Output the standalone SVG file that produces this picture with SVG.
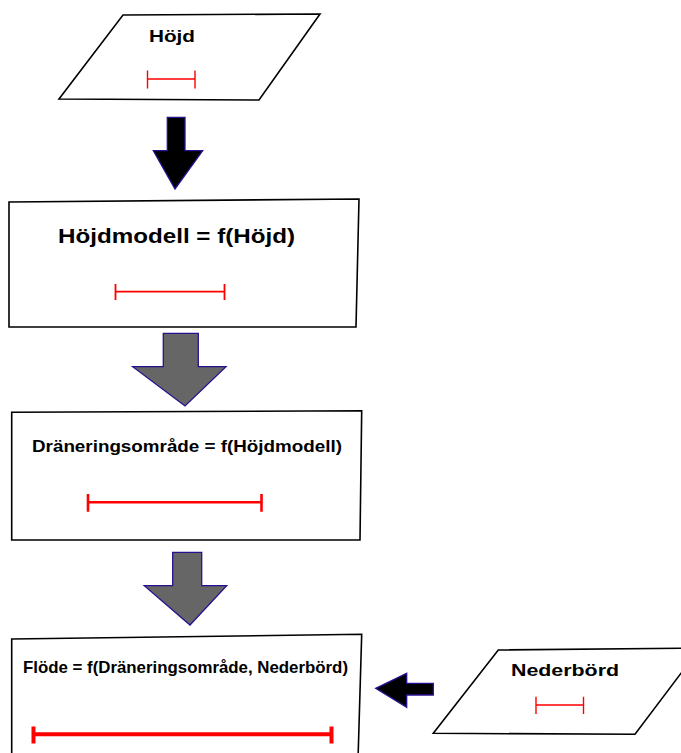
<svg xmlns="http://www.w3.org/2000/svg" width="681" height="753" viewBox="0 0 681 753">
  <style>
    .shape { fill: #fff; stroke: #000; stroke-width: 1.6; stroke-linejoin: miter; }
    .label { font-family: "Liberation Sans", Arial, sans-serif; font-weight: bold; fill: #000; }
    .scale { fill: none; stroke: #f00; stroke-linecap: butt; }
    .arrow-dark { fill: #000; stroke: #2a1090; stroke-width: 1.3; stroke-linejoin: miter; }
    .arrow-grey { fill: #666; stroke: #2a1090; stroke-width: 1.3; stroke-linejoin: miter; }
  </style>
  <rect width="681" height="753" fill="#fff"/>

  <!-- data sources and processing steps -->
  <g id="hojd">
    <polygon class="shape" points="123,15 320,14 259,100 59,99"/>
    <text class="label" x="149" y="42" font-size="16" textLength="46" lengthAdjust="spacingAndGlyphs">Höjd</text>
    <path class="scale" stroke-width="1.4" stroke="#e8343c" d="M147,79 H195.5 M147.5,70.5 V88.5 M195,70.5 V88.5"/>
  </g>

  <g id="hojdmodell">
    <polygon class="shape" stroke-width="1.8" points="9,202 359,199 356,327 9,327"/>
    <text class="label" x="58" y="243" font-size="20.5" textLength="237" lengthAdjust="spacingAndGlyphs">Höjdmodell = f(Höjd)</text>
    <path class="scale" stroke-width="1.8" d="M115.5,291.7 H225 M115.5,284 V300 M224.5,284 V300"/>
  </g>

  <g id="draneringsomrade">
    <polygon class="shape" stroke-width="1.8" points="11.7,412.3 361.7,410.7 360,540 11.7,540"/>
    <text class="label" x="32" y="452.3" font-size="16.3" textLength="310" lengthAdjust="spacingAndGlyphs">Dräneringsområde = f(Höjdmodell)</text>
    <path class="scale" stroke-width="2.6" d="M87.5,502.3 H262 M88,494 V511.7 M261.5,494 V511.7"/>
  </g>

  <g id="flode">
    <polygon class="shape" stroke-width="1.8" points="11.7,639 361.7,634.3 358,760 11.7,760"/>
    <text class="label" x="23" y="673" font-size="17" textLength="325" lengthAdjust="spacingAndGlyphs">Flöde = f(Dräneringsområde, Nederbörd)</text>
    <path class="scale" stroke-width="4" d="M31.5,734.3 H333.5 M33.5,726.5 V743.5 M331.5,726.5 V743.5"/>
  </g>

  <g id="nederbord">
    <polygon class="shape" stroke-width="1.5" points="498.3,650 700,648 635,734.3 433.3,733.3"/>
    <text class="label" x="511" y="676" font-size="16" textLength="108" lengthAdjust="spacingAndGlyphs">Nederbörd</text>
    <path class="scale" stroke-width="1.4" stroke="#e8343c" d="M535.5,705 H584 M536,696.7 V714 M583.5,696.7 V714"/>
  </g>

  <!-- block arrows between steps -->
  <g id="connectors">
    <polygon class="arrow-dark" points="167.3,117.3 185,117.3 185,150.7 202.7,150.7 175,189 153.3,150.7 167.3,150.7"/>
    <polygon class="arrow-grey" points="163.3,333.3 198.3,333.3 198.3,366.7 226,366.7 185,406 132.7,366.7 163.3,366.7"/>
    <polygon class="arrow-grey" points="172.7,552.3 201.7,552.3 201.7,585.7 226.7,585.7 190,625 144.3,585.7 172.7,585.7"/>
    <polygon class="arrow-dark" points="433.3,683.3 433.3,695 406.7,695 406.7,707.3 375.7,688.3 406.7,673.3 406.7,683.3"/>
  </g>
</svg>
